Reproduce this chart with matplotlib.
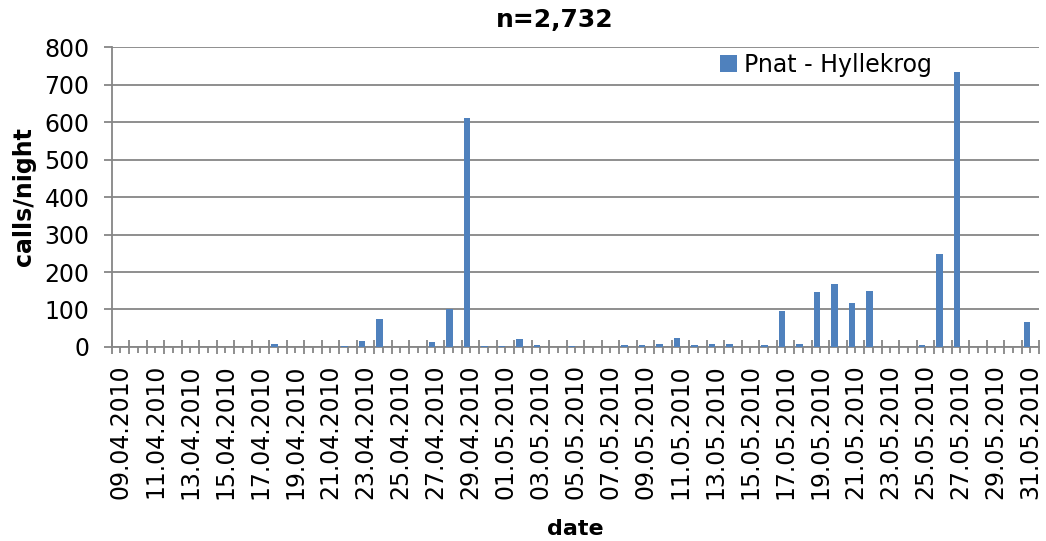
import numpy as np
import matplotlib
matplotlib.use('Agg')
import matplotlib.pyplot as plt

# nightly call counts, 09.04.2010 - 31.05.2010
days_apr = ['%02d.04.2010' % d for d in range(9, 31)]
days_may = ['%02d.05.2010' % d for d in range(1, 32)]
dates = days_apr + days_may

calls_apr = [0, 0, 0, 0, 1, 0, 0, 0, 0, 8, 0, 0, 0, 3, 16, 75, 0, 1, 12, 100, 610, 2]
calls_may = [2, 20, 5, 1, 2, 0, 0, 4, 4, 7, 23, 6, 8, 9, 0, 5, 97, 8, 148, 168,
             116, 150, 0, 0, 4, 248, 733, 0, 1, 1, 66]
calls = calls_apr + calls_may

series_name = 'Pnat - Hyllekrog'
title = 'n=2,732'

plt.rcParams['font.family'] = ['DejaVu Sans']
grey = '#868686'
blue = '#4F81BD'

fig = plt.figure(figsize=(10.46, 5.41), dpi=100)
ax = fig.add_axes([0.1068, 0.3586, 0.8867, 0.5545])

x = np.arange(len(dates))
ax.bar(x - 0.19, calls, width=0.38, color=blue, label=series_name, zorder=3)

ax.set_xlim(-0.5, len(dates) - 0.5)
ax.set_ylim(0, 800)
ax.set_yticks(range(0, 801, 100))
ax.yaxis.grid(True, color=grey, linewidth=1.3, zorder=0)

# category boundaries as major ticks, labels on every second day
ax.set_xticks(np.arange(len(dates) + 1) - 0.5)
ax.set_xticklabels([])
labs = [d if i % 2 == 0 else '' for i, d in enumerate(dates)]
ax.set_xticks(x, labs, minor=True, rotation=90)
ax.tick_params(axis='x', which='major', direction='inout', length=9.5, width=1.3, color=grey)
ax.tick_params(axis='x', which='minor', direction='out', length=4.3, width=1.3, color=grey,
               labelsize=17, pad=8)
ax.tick_params(axis='y', direction='out', length=6, width=1.3, color=grey, labelsize=17, pad=10)

for s in ['top', 'right']:
    ax.spines[s].set_visible(False)
for s in ['left', 'bottom']:
    ax.spines[s].set_color(grey)
    ax.spines[s].set_linewidth(1.3)

ax.set_ylabel('calls/night', fontsize=17, fontweight='bold', labelpad=6)
ax.set_xlabel('date', fontsize=16, fontweight='bold', labelpad=14)
fig.text(555 / 1046, 1 - 20 / 541, title, fontsize=18, fontweight='bold', ha='center', va='center')

ax.legend(loc='upper left', bbox_to_anchor=(720 / 1046, 1 - 53 / 541), bbox_transform=fig.transFigure,
          frameon=False, fontsize=17, handlelength=0.7, handleheight=0.7, handletextpad=0.3,
          borderpad=0, borderaxespad=0)

fig.savefig('out.png', dpi=100)
